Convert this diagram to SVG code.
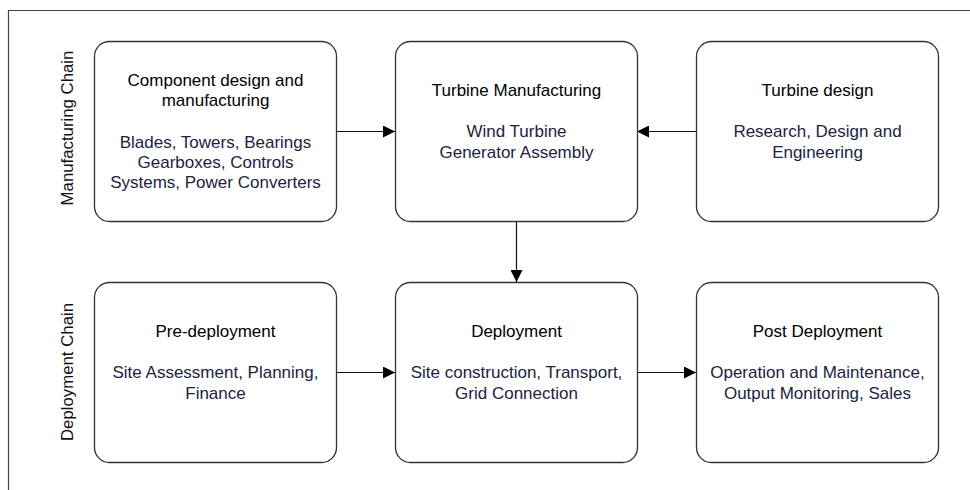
<svg xmlns="http://www.w3.org/2000/svg" width="970" height="490" viewBox="0 0 970 490">
  <style>
    .box { fill: #ffffff; stroke: #333333; stroke-width: 1.3; }
    .title { font-family: "Liberation Sans", Arial, sans-serif; font-size: 17px; fill: #000000; text-anchor: middle; }
    .detail { font-family: "Liberation Sans", Arial, sans-serif; font-size: 17px; fill: #1c2340; text-anchor: middle; }
    .side { font-family: "Liberation Sans", Arial, sans-serif; font-size: 16.8px; fill: #111111; text-anchor: middle; }
    .link { stroke: #111111; stroke-width: 1.2; fill: none; marker-end: url(#arrow); }
  </style>
  <defs>
    <marker id="arrow" viewBox="0 0 12 12" refX="12" refY="6" markerWidth="12" markerHeight="12" markerUnits="userSpaceOnUse" orient="auto">
      <path d="M0,0 L12,6 L0,12 Z" fill="#000000"/>
    </marker>
  </defs>
  <rect width="970" height="490" fill="#ffffff"/>
  <!-- outer frame -->
  <path d="M8.5,490 V10.5 H970" fill="none" stroke="#444444" stroke-width="1.2"/>

  <!-- chain labels -->
  <text class="side" transform="translate(73,128) rotate(-90)">Manufacturing Chain</text>
  <text class="side" transform="translate(73,372) rotate(-90)">Deployment Chain</text>

  <g id="connectors">
    <line class="link" x1="336" y1="131.5" x2="395" y2="131.5"/>
    <line class="link" x1="696" y1="131.5" x2="637" y2="131.5"/>
    <line class="link" x1="516.5" y1="221" x2="516.5" y2="282"/>
    <line class="link" x1="336" y1="372.5" x2="395" y2="372.5"/>
    <line class="link" x1="637" y1="372.5" x2="696" y2="372.5"/>
  </g>

  <g id="component-design">
    <rect class="box" x="94.5" y="41.5" width="242" height="180" rx="15"/>
    <text class="title" x="215.5" y="86">Component design and</text>
    <text class="title" x="215.5" y="106">manufacturing</text>
    <text class="detail" x="215.5" y="148">Blades, Towers, Bearings</text>
    <text class="detail" x="215.5" y="168">Gearboxes, Controls</text>
    <text class="detail" x="215.5" y="188">Systems, Power Converters</text>
  </g>

  <g id="turbine-manufacturing">
    <rect class="box" x="395.5" y="41.5" width="242" height="180" rx="15"/>
    <text class="title" x="516.5" y="96">Turbine Manufacturing</text>
    <text class="detail" x="516.5" y="137">Wind Turbine</text>
    <text class="detail" x="516.5" y="158">Generator Assembly</text>
  </g>

  <g id="turbine-design">
    <rect class="box" x="696.5" y="41.5" width="242" height="180" rx="15"/>
    <text class="title" x="817.5" y="96">Turbine design</text>
    <text class="detail" x="817.5" y="137">Research, Design and</text>
    <text class="detail" x="817.5" y="158">Engineering</text>
  </g>

  <g id="pre-deployment">
    <rect class="box" x="94.5" y="282.5" width="242" height="180" rx="15"/>
    <text class="title" x="215.5" y="337">Pre-deployment</text>
    <text class="detail" x="215.5" y="378">Site Assessment, Planning,</text>
    <text class="detail" x="215.5" y="399">Finance</text>
  </g>

  <g id="deployment">
    <rect class="box" x="395.5" y="282.5" width="242" height="180" rx="15"/>
    <text class="title" x="516.5" y="337">Deployment</text>
    <text class="detail" x="516.5" y="378">Site construction, Transport,</text>
    <text class="detail" x="516.5" y="399">Grid Connection</text>
  </g>

  <g id="post-deployment">
    <rect class="box" x="696.5" y="282.5" width="242" height="180" rx="15"/>
    <text class="title" x="817.5" y="337">Post Deployment</text>
    <text class="detail" x="817.5" y="378">Operation and Maintenance,</text>
    <text class="detail" x="817.5" y="399">Output Monitoring, Sales</text>
  </g>
</svg>
